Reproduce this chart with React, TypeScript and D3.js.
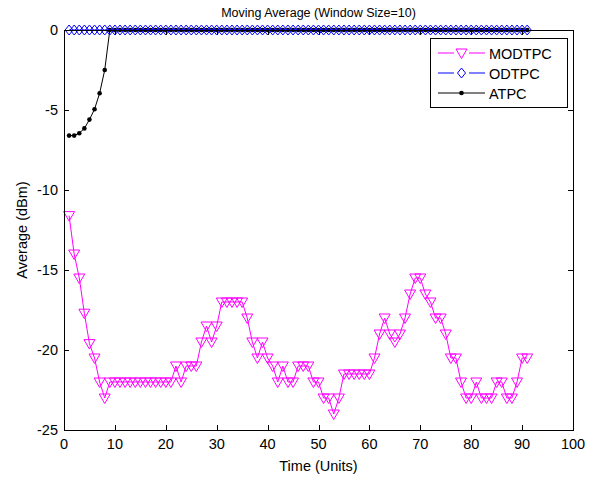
import { useEffect, useRef } from "react";
import * as d3 from "d3";

// moving-average samples, one per time unit starting at t=1
const modtpc = [
  -11.6, -14, -15.5, -17.7, -19.6, -20.5, -22, -23, -22, -22,
  -22, -22, -22, -22, -22, -22, -22, -22, -22, -22,
  -22, -21, -22, -21, -21, -21, -19.5, -18.5, -19.5, -18.5,
  -17, -17, -17, -17, -17, -18, -19.5, -20.5, -19.5, -20.5,
  -21, -22, -21, -22, -22, -21, -21, -21, -22, -22,
  -23, -23, -24, -23, -21.5, -21.5, -21.5, -21.5, -21.5, -21.5,
  -20.5, -19, -18, -19, -19.5, -19, -18, -16.5, -15.5, -15.5,
  -16.5, -17, -18, -18, -19, -20.5, -20.5, -22, -23, -23,
  -22, -23, -23, -23, -22, -22, -23, -23, -22, -20.5,
  -20.5,
];

const odtpc = [
  0, 0, 0, 0, 0, 0, 0, 0, 0, 0,
  0, 0, 0, 0, 0, 0, 0, 0, 0, 0,
  0, 0, 0, 0, 0, 0, 0, 0, 0, 0,
  0, 0, 0, 0, 0, 0, 0, 0, 0, 0,
  0, 0, 0, 0, 0, 0, 0, 0, 0, 0,
  0, 0, 0, 0, 0, 0, 0, 0, 0, 0,
  0, 0, 0, 0, 0, 0, 0, 0, 0, 0,
  0, 0, 0, 0, 0, 0, 0, 0, 0, 0,
  0, 0, 0, 0, 0, 0, 0, 0, 0, 0,
  0,
];

const atpc = [
  -6.6, -6.6, -6.45, -6.15, -5.6, -4.95, -3.95, -2.5, 0, 0,
  0, 0, 0, 0, 0, 0, 0, 0, 0, 0,
  0, 0, 0, 0, 0, 0, 0, 0, 0, 0,
  0, 0, 0, 0, 0, 0, 0, 0, 0, 0,
  0, 0, 0, 0, 0, 0, 0, 0, 0, 0,
  0, 0, 0, 0, 0, 0, 0, 0, 0, 0,
  0, 0, 0, 0, 0, 0, 0, 0, 0, 0,
  0, 0, 0, 0, 0, 0, 0, 0, 0, 0,
  0, 0, 0, 0, 0, 0, 0, 0, 0, 0,
  0,
];

const xTicks = [0, 10, 20, 30, 40, 50, 60, 70, 80, 90, 100];
const yTicks = [-25, -20, -15, -10, -5, 0];
const seriesNames = ["MODTPC", "ODTPC", "ATPC"];

const W = 589;
const H = 480;
const FONT = "Liberation Sans, Arial, sans-serif";

function triPath(cx: number, cy: number) {
  return `M${cx - 5.5},${cy - 4}L${cx + 5.5},${cy - 4}L${cx},${cy + 5.5}Z`;
}
function diaPath(cx: number, cy: number) {
  return `M${cx},${cy - 5}L${cx + 4},${cy}L${cx},${cy + 5}L${cx - 4},${cy}Z`;
}

export default function App() {
  const svgRef = useRef<SVGSVGElement>(null);

  useEffect(() => {
    if (!svgRef.current) return;
    const svg = d3.select(svgRef.current);
    svg.selectAll("*").remove();

    const x = d3.scaleLinear().domain([0, 100]).range([64, 573]);
    const y = d3.scaleLinear().domain([-25, 0]).range([430, 30]);
    const [x0, x1] = x.range();
    const [y1, y0] = y.range();

    svg.append("rect").attr("width", W).attr("height", H).attr("fill", "#fff");

    const line = d3
      .line<number>()
      .x((_, i) => x(i + 1))
      .y((d) => y(d));

    // MODTPC
    svg.append("path")
      .attr("d", line(modtpc))
      .attr("fill", "none")
      .attr("stroke", "#ff00ff")
      .attr("stroke-width", 1);
    svg.append("g")
      .selectAll("path")
      .data(modtpc)
      .join("path")
      .attr("d", (d, i) => triPath(x(i + 1), y(d)))
      .attr("fill", "none")
      .attr("stroke", "#ff00ff")
      .attr("stroke-width", 1);

    // ATPC
    svg.append("path")
      .attr("d", line(atpc))
      .attr("fill", "none")
      .attr("stroke", "#000")
      .attr("stroke-width", 1);
    svg.append("g")
      .selectAll("circle")
      .data(atpc)
      .join("circle")
      .attr("cx", (_, i) => x(i + 1))
      .attr("cy", (d) => y(d))
      .attr("r", 2.3)
      .attr("fill", "#000");

    // ODTPC
    svg.append("path")
      .attr("d", line(odtpc))
      .attr("fill", "none")
      .attr("stroke", "#0000ff")
      .attr("stroke-width", 1);
    svg.append("g")
      .selectAll("path")
      .data(odtpc)
      .join("path")
      .attr("d", (d, i) => diaPath(x(i + 1), y(d)))
      .attr("fill", "none")
      .attr("stroke", "#0000ff")
      .attr("stroke-width", 1);

    // axes box and inward ticks
    const ax = svg.append("g").attr("stroke", "#000").attr("stroke-width", 1);
    ax.append("rect")
      .attr("x", x0 + 0.5)
      .attr("y", y0 + 0.5)
      .attr("width", x1 - x0)
      .attr("height", y1 - y0)
      .attr("fill", "none");
    xTicks.forEach((t) => {
      const px = Math.round(x(t)) + 0.5;
      ax.append("line").attr("x1", px).attr("x2", px).attr("y1", y1).attr("y2", y1 - 5);
      ax.append("line").attr("x1", px).attr("x2", px).attr("y1", y0).attr("y2", y0 + 5);
    });
    yTicks.forEach((t) => {
      const py = Math.round(y(t)) + 0.5;
      ax.append("line").attr("x1", x0).attr("x2", x0 + 5).attr("y1", py).attr("y2", py);
      ax.append("line").attr("x1", x1).attr("x2", x1 - 5).attr("y1", py).attr("y2", py);
    });

    const txt = svg.append("g").attr("font-family", FONT).attr("font-size", 14.5).attr("fill", "#000");
    xTicks.forEach((t) => {
      txt.append("text")
        .attr("x", x(t))
        .attr("y", y1 + 19)
        .attr("text-anchor", "middle")
        .text(t);
    });
    yTicks.forEach((t) => {
      txt.append("text")
        .attr("x", x0 - 6)
        .attr("y", y(t) + 5)
        .attr("text-anchor", "end")
        .text(t);
    });
    txt.append("text")
      .attr("x", (x0 + x1) / 2)
      .attr("y", 17)
      .attr("text-anchor", "middle")
      .attr("font-size", 12.5)
      .text("Moving Average (Window Size=10)");
    txt.append("text")
      .attr("x", (x0 + x1) / 2)
      .attr("y", 471)
      .attr("text-anchor", "middle")
      .text("Time (Units)");
    txt.append("text")
      .attr("transform", `translate(27,${(y0 + y1) / 2}) rotate(-90)`)
      .attr("text-anchor", "middle")
      .text("Average (dBm)");

    // legend
    const lg = svg.append("g");
    lg.append("rect")
      .attr("x", 430.5)
      .attr("y", 38.5)
      .attr("width", 137)
      .attr("height", 69)
      .attr("fill", "#fff")
      .attr("stroke", "#000");
    const colors = ["#ff00ff", "#0000ff", "#000"];
    seriesNames.forEach((name, i) => {
      const ly = 53 + i * 20;
      const c = colors[i];
      if (i === 2) {
        lg.append("line").attr("x1", 438).attr("x2", 485).attr("y1", ly).attr("y2", ly).attr("stroke", c);
        lg.append("circle").attr("cx", 461.5).attr("cy", ly).attr("r", 2.3).attr("fill", c);
      } else {
        lg.append("line").attr("x1", 438).attr("x2", 454).attr("y1", ly).attr("y2", ly).attr("stroke", c);
        lg.append("line").attr("x1", 469).attr("x2", 485).attr("y1", ly).attr("y2", ly).attr("stroke", c);
        lg.append("path")
          .attr("d", i === 0 ? triPath(461.5, ly) : diaPath(461.5, ly))
          .attr("fill", "none")
          .attr("stroke", c);
      }
      lg.append("text")
        .attr("x", 489)
        .attr("y", ly + 5.5)
        .attr("font-family", FONT)
        .attr("font-size", 14.5)
        .text(name);
    });
  }, []);

  return (
    <div style={{ position: "absolute", left: 0, top: 0 }}>
      <svg ref={svgRef} width={W} height={H} style={{ display: "block" }} />
    </div>
  );
}
